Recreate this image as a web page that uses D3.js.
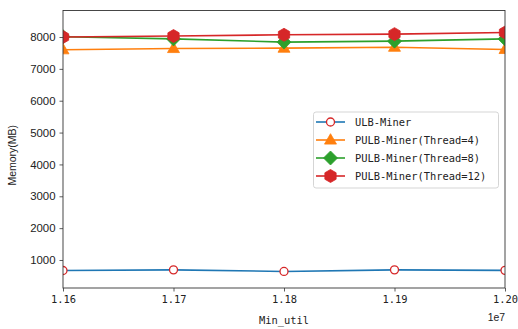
<!DOCTYPE html>
<html>
<head>
<meta charset="utf-8">
<script src="https://cdn.jsdelivr.net/npm/d3@7"></script>
<style>
  html, body { margin: 0; padding: 0; background: #fff; }
  svg { display: block; }
</style>
</head>
<body>
<svg id="chart" width="518" height="329"></svg>
<script>
// Min_util thresholds (x 1e7)
const minUtil = [1.16e7, 1.17e7, 1.18e7, 1.19e7, 1.20e7];
const xTicks = [1.16e7, 1.17e7, 1.18e7, 1.19e7, 1.20e7];
const xTickLabels = ["1.16", "1.17", "1.18", "1.19", "1.20"];
const yTicks = [1000, 2000, 3000, 4000, 5000, 6000, 7000, 8000];

// Memory usage (MB) per algorithm
const ulbMiner = [670, 690, 640, 690, 675];
const pulb4 = [7600, 7640, 7650, 7680, 7610];
const pulb8 = [8010, 7940, 7840, 7870, 7940];
const pulb12 = [8000, 8030, 8070, 8090, 8140];

const seriesNames = ["ULB-Miner", "PULB-Miner(Thread=4)", "PULB-Miner(Thread=8)", "PULB-Miner(Thread=12)"];

const series = [
  { name: seriesNames[0], values: ulbMiner, color: "#1f77b4", marker: "circle" },
  { name: seriesNames[1], values: pulb4, color: "#ff7f0e", marker: "triangle" },
  { name: seriesNames[2], values: pulb8, color: "#2ca02c", marker: "diamond" },
  { name: seriesNames[3], values: pulb12, color: "#d62728", marker: "hexagon" }
];

const svg = d3.select("#chart");
const plotLeft = 63, plotRight = 505, plotTop = 10.5, plotBottom = 288;

const x = d3.scaleLinear().domain([1.16e7, 1.20e7]).range([plotLeft, plotRight]);
const y = d3.scaleLinear().domain([121, 8832]).range([plotBottom, plotTop]);

const monoFont = "'DejaVu Sans Mono', 'Liberation Mono', monospace";
const sansFont = "'Liberation Sans', Arial, sans-serif";

svg.append("defs").append("clipPath").attr("id", "plotClip")
  .append("rect").attr("x", plotLeft).attr("y", plotTop)
  .attr("width", plotRight - plotLeft).attr("height", plotBottom - plotTop);

// marker path generators, centred on the origin
function markerPath(type) {
  if (type === "triangle") {
    const s = 6.3;
    return `M0,${-s} L${s * 0.95},${s * 0.65} L${-s * 0.95},${s * 0.65} Z`;
  }
  if (type === "diamond") {
    const w = 7, h = 7;
    return `M0,${-h} L${w},0 L0,${h} L${-w},0 Z`;
  }
  if (type === "hexagon") {
    const r = 6.5;
    const pts = d3.range(6).map(i => {
      const a = Math.PI / 2 + i * Math.PI / 3;
      return [r * Math.cos(a), -r * Math.sin(a)];
    });
    return "M" + pts.map(p => p.join(",")).join("L") + "Z";
  }
  return null;
}

function drawMarker(g, type, color, cx, cy) {
  if (type === "circle") {
    g.append("circle").attr("cx", cx).attr("cy", cy).attr("r", 4)
      .attr("fill", "#fff").attr("stroke", "#d62728").attr("stroke-width", 1.3);
  } else {
    g.append("path").attr("d", markerPath(type))
      .attr("transform", `translate(${cx},${cy})`)
      .attr("fill", color).attr("stroke", color).attr("stroke-width", 0.8);
  }
}

// Axes
const xAxis = d3.axisBottom(x).tickValues(xTicks)
  .tickFormat((d, i) => xTickLabels[i]).tickSize(3.5).tickPadding(4);
const yAxis = d3.axisLeft(y).tickValues(yTicks)
  .tickFormat(d3.format("d")).tickSize(3.5).tickPadding(4);

const gx = svg.append("g").attr("transform", `translate(0,${plotBottom})`).call(xAxis);
gx.select(".domain").remove();
gx.selectAll("line").attr("stroke", "#333").attr("stroke-width", 0.8);
gx.selectAll("text").attr("font-family", monoFont).attr("font-size", 10.4).attr("fill", "#222");

const gy = svg.append("g").attr("transform", `translate(${plotLeft},0)`).call(yAxis);
gy.select(".domain").remove();
gy.selectAll("line").attr("stroke", "#333").attr("stroke-width", 0.8);
gy.selectAll("text").attr("font-family", sansFont).attr("font-size", 11.4).attr("fill", "#222");

// Lines and markers
const plot = svg.append("g").attr("clip-path", "url(#plotClip)");
const line = d3.line().x((d, i) => x(minUtil[i])).y(d => y(d));

series.forEach(s => {
  const g = plot.append("g");
  g.append("path").datum(s.values).attr("d", line)
    .attr("fill", "none").attr("stroke", s.color).attr("stroke-width", 1.6);
  s.values.forEach((v, i) => drawMarker(g, s.marker, s.color, x(minUtil[i]), y(v)));
});

// Frame
svg.append("rect").attr("x", plotLeft).attr("y", plotTop)
  .attr("width", plotRight - plotLeft).attr("height", plotBottom - plotTop)
  .attr("fill", "none").attr("stroke", "#333").attr("stroke-width", 0.9);

// Axis titles
svg.append("text").attr("x", 284).attr("y", 324)
  .attr("text-anchor", "middle").attr("font-family", monoFont)
  .attr("font-size", 10.4).attr("fill", "#222").text("Min_util");
svg.append("text").attr("x", 505).attr("y", 321)
  .attr("text-anchor", "end").attr("font-family", sansFont)
  .attr("font-size", 10.4).attr("fill", "#222").text("1e7");
svg.append("text")
  .attr("transform", `translate(16,${(plotTop + plotBottom) / 2 + 6}) rotate(-90)`)
  .attr("text-anchor", "middle").attr("font-family", sansFont)
  .attr("font-size", 10.5).attr("fill", "#222").text("Memory(MB)");

// Legend
const legend = svg.append("g");
legend.append("rect").attr("x", 313.5).attr("y", 112).attr("width", 185).attr("height", 76)
  .attr("rx", 2.5).attr("fill", "#fff").attr("fill-opacity", 0.85)
  .attr("stroke", "#d0d0d0").attr("stroke-width", 0.9);
series.forEach((s, i) => {
  const cy = 122 + i * 18;
  legend.append("line").attr("x1", 316).attr("x2", 345).attr("y1", cy).attr("y2", cy)
    .attr("stroke", s.color).attr("stroke-width", 1.6);
  drawMarker(legend, s.marker, s.color, 330.5, cy);
  legend.append("text").attr("x", 355).attr("y", cy + 3.8)
    .attr("font-family", monoFont).attr("font-size", 10.4).attr("fill", "#222")
    .text(s.name);
});
</script>
</body>
</html>
